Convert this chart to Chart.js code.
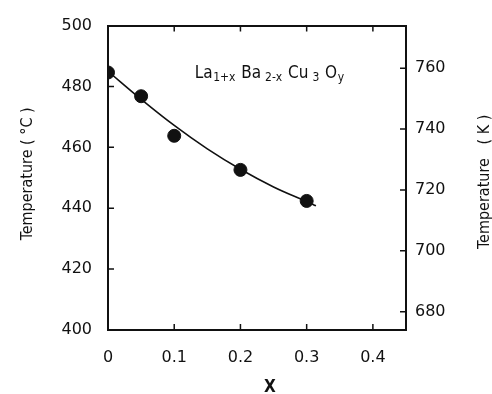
<!DOCTYPE html>
<html>
<head>
<meta charset="utf-8">
<script src="https://cdn.jsdelivr.net/npm/chart.js@4.4.1/dist/chart.umd.min.js"></script>
<style>
    html, body { margin: 0; padding: 0; background: #fff; }
    #wrap { width: 492px; height: 394px; }
</style>
</head>
<body>
<div id="wrap"><canvas id="myChart" width="492" height="394"></canvas></div>
<script>
// measured transition temperatures
const xValues = [0, 0.05, 0.1, 0.2, 0.3];
const tempC = [484.6, 476.8, 463.8, 452.6, 442.4];

// hand-drawn guide curve through the points
const fitX = [0, 0.05, 0.1, 0.15, 0.2, 0.25, 0.3, 0.314];
const fitC = [485, 475.8, 467.2, 459.5, 452.8, 447, 442.2, 440.8];

const xTicks = [0, 0.1, 0.2, 0.3, 0.4];
const cTicks = [400, 420, 440, 460, 480, 500];
const kTicks = [680, 700, 720, 740, 760];

const ink = '#111';
const narrow = "'Liberation Sans Narrow', 'DejaVu Sans Condensed', sans-serif";
const tickFont = { family: "'DejaVu Sans', sans-serif", size: 16 };

const fixedTicks = list => scale => { scale.ticks = list.map(value => ({ value })); };

// ticks point into the plot on all four sides
const inwardTicks = {
    id: 'inwardTicks',
    afterDatasetsDraw(chart) {
        const { ctx, chartArea: a, scales } = chart;
        const len = 6;
        ctx.save();
        ctx.strokeStyle = ink;
        ctx.lineWidth = 1.5;
        ctx.beginPath();
        xTicks.slice(1).forEach(v => {
            const px = scales.x.getPixelForValue(v);
            ctx.moveTo(px, a.bottom); ctx.lineTo(px, a.bottom - len);
            ctx.moveTo(px, a.top); ctx.lineTo(px, a.top + len);
        });
        cTicks.slice(1, -1).forEach(v => {
            const py = scales.y.getPixelForValue(v);
            ctx.moveTo(a.left, py); ctx.lineTo(a.left + len, py);
        });
        kTicks.forEach(v => {
            const py = scales.yK.getPixelForValue(v);
            ctx.moveTo(a.right, py); ctx.lineTo(a.right - len, py);
        });
        ctx.stroke();
        ctx.restore();
    }
};

// axis titles and the compound formula
const labels = {
    id: 'labels',
    afterDraw(chart) {
        const { ctx, chartArea: a, scales } = chart;
        const midY = (a.top + a.bottom) / 2;
        ctx.save();
        ctx.fillStyle = ink;
        ctx.textAlign = 'center';
        ctx.textBaseline = 'middle';

        ctx.font = `16px ${narrow}`;
        ctx.save();
        ctx.translate(28, midY - 4);
        ctx.rotate(-Math.PI / 2);
        ctx.fillText('Temperature ( \u00b0C )', 0, 0);
        ctx.restore();

        ctx.save();
        ctx.translate(485, midY + 4);
        ctx.rotate(-Math.PI / 2);
        ctx.fillText('Temperature   ( K )', 0, 0);
        ctx.restore();

        ctx.font = `bold 17px ${narrow}`;
        ctx.fillText('X', (a.left + a.right) / 2 + 13, 388);

        // La1+x Ba2-x Cu3 Oy
        const parts = [
            ['La', false], ['1+x', true], [' Ba', false], [' 2-x', true],
            [' Cu', false], [' 3', true], [' O', false], ['y', true]
        ];
        let x = scales.x.getPixelForValue(0.131);
        const base = scales.y.getPixelForValue(482.9);
        ctx.textAlign = 'left';
        ctx.textBaseline = 'alphabetic';
        parts.forEach(([t, sub]) => {
            ctx.font = sub ? `12px ${narrow}` : `17px ${narrow}`;
            ctx.fillText(t, x, sub ? base + 3 : base);
            x += ctx.measureText(t).width + (sub ? 1 : 0.5);
        });
        ctx.restore();
    }
};

const axisBorder = { color: ink, width: 2 };
const noGrid = { drawOnChartArea: false, drawTicks: false };

new Chart(document.getElementById('myChart'), {
    type: 'scatter',
    data: {
        datasets: [
            {
                type: 'scatter',
                data: xValues.map((x, i) => ({ x, y: tempC[i] })),
                backgroundColor: ink,
                borderColor: ink,
                pointRadius: 6.5,
                pointHoverRadius: 6.5
            },
            {
                type: 'line',
                data: fitX.map((x, i) => ({ x, y: fitC[i] })),
                borderColor: ink,
                borderWidth: 1.6,
                pointRadius: 0,
                fill: false,
                tension: 0.4
            }
        ]
    },
    options: {
        responsive: false,
        animation: false,
        events: [],
        layout: { padding: 0 },
        plugins: { legend: { display: false }, tooltip: { enabled: false } },
        scales: {
            x: {
                type: 'linear', position: 'bottom', min: 0, max: 0.45,
                afterBuildTicks: fixedTicks(xTicks),
                afterFit: s => { s.height = 64; },
                grid: noGrid, border: axisBorder,
                ticks: { padding: 18, color: ink, font: tickFont, maxRotation: 0,
                         callback: v => v === 0 ? '0' : v.toFixed(1) }
            },
            xTop: {
                type: 'linear', position: 'top', min: 0, max: 0.45,
                afterFit: s => { s.height = 18; },
                grid: noGrid, border: axisBorder,
                ticks: { display: false }
            },
            y: {
                type: 'linear', position: 'left', min: 400, max: 500,
                afterBuildTicks: fixedTicks(cTicks),
                afterFit: s => { s.width = 108; },
                grid: noGrid, border: axisBorder,
                ticks: { padding: 16, color: ink, font: tickFont }
            },
            yK: {
                type: 'linear', position: 'right', min: 674, max: 774,
                afterBuildTicks: fixedTicks(kTicks),
                afterFit: s => { s.width = 86; },
                grid: noGrid, border: axisBorder,
                ticks: { padding: 9, color: ink, font: tickFont }
            }
        }
    },
    plugins: [inwardTicks, labels]
});
</script>
</body>
</html>
